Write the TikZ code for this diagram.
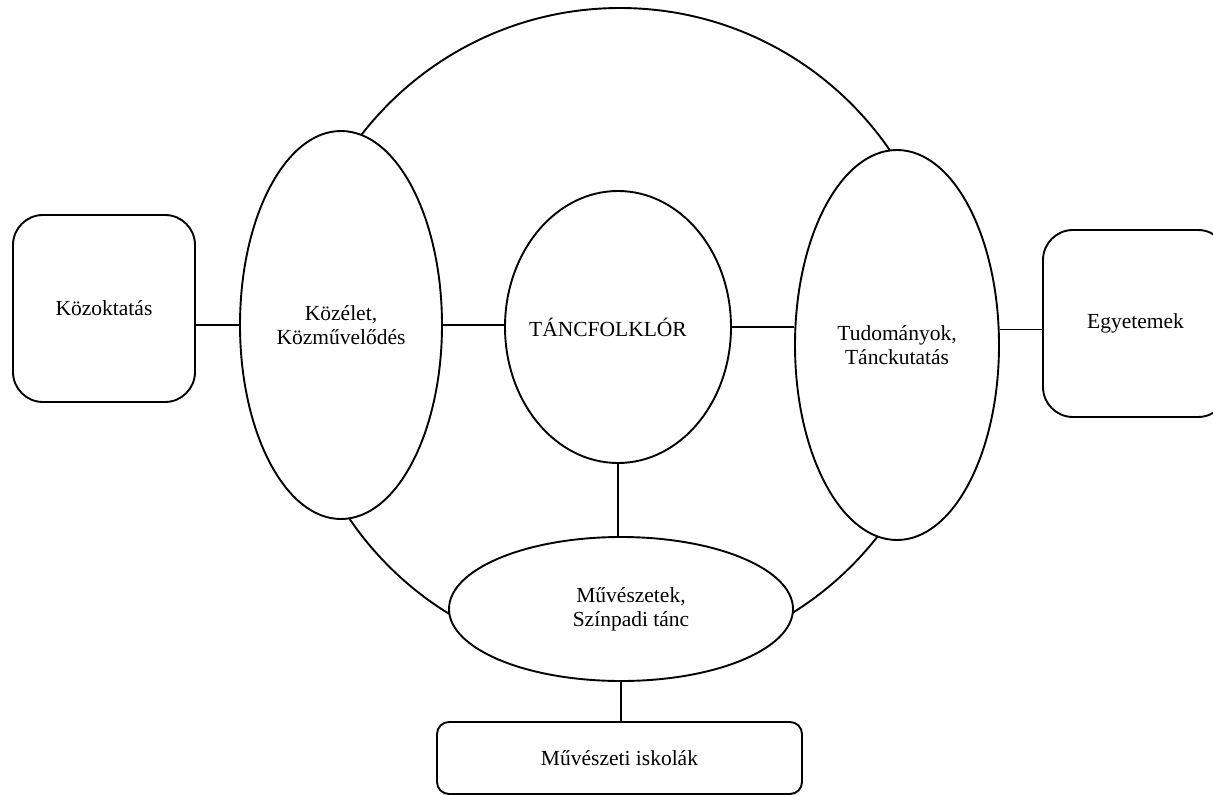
\documentclass[tikz,border=0pt]{standalone}
\usepackage{fontspec}
\setmainfont{Liberation Serif}
\usetikzlibrary{shapes.geometric}
\tikzset{
  every node/.style={font=\fontsize{21.5pt}{24pt}\selectfont},
  line/.style={line width=1.9pt, black},
  bubble/.style={ellipse, draw, line width=1.9pt, fill=white, inner sep=0pt, align=center},
  roundbox/.style={rectangle, draw, line width=1.9pt, fill=white, rounded corners=30pt, inner sep=0pt, align=center},
}
\begin{document}
\begin{tikzpicture}[x=1pt, y=-1pt]
\useasboundingbox (0,0) rectangle (1213,795);
\clip (0,0) rectangle (1213,795);
\fill[white] (0,0) rectangle (1213,795);
% outer ring
\node[circle, draw, line width=1.9pt, minimum size=654pt, inner sep=0pt] (ring) at (620,335) {};
% nodes
\node[roundbox, minimum width=182pt, minimum height=187pt] (kozokt) at (104,308.5) {Közoktatás};
\node[bubble, minimum width=202pt, minimum height=388pt] (kozelet) at (341,325) {Közélet,\\Közművelődés};
\node[bubble, minimum width=226pt, minimum height=272pt] (tanc) at (618,327) {\makebox[0pt]{\hspace*{-20pt}TÁNCFOLKLÓR}};
\node[bubble, minimum width=204pt, minimum height=390pt] (tudom) at (897,345) {Tudományok,\\Tánckutatás};
\node[roundbox, minimum width=185pt, minimum height=187pt] (egyet) at (1135.5,323.5) {Egyetemek};
\node[bubble, minimum width=344pt, minimum height=144pt] (muv) at (621,609) {\makebox[0pt]{\hspace*{20pt}Művészetek,}\\\makebox[0pt]{\hspace*{20pt}Színpadi tánc}};
\node[roundbox, rounded corners=12pt, minimum width=365pt, minimum height=72pt] (iskol) at (619.5,758) {Művészeti iskolák};
\coordinate (egyetin) at ([yshift=-6pt]egyet.west);
% connectors
\draw[line] (kozokt.east |- kozelet.west) -- (kozelet.west);
\draw[line] (kozelet.east) -- (kozelet.east -| tanc.west);
\draw[line] (tanc.east) -- (tanc.east -| tudom.west);
\draw[line] (tudom.east |- egyetin) -- (egyetin);
\draw[line] (tanc.south) -- (tanc.south |- muv.north);
\draw[line] (muv.south) -- (muv.south |- iskol.north);
\end{tikzpicture}
\end{document}
